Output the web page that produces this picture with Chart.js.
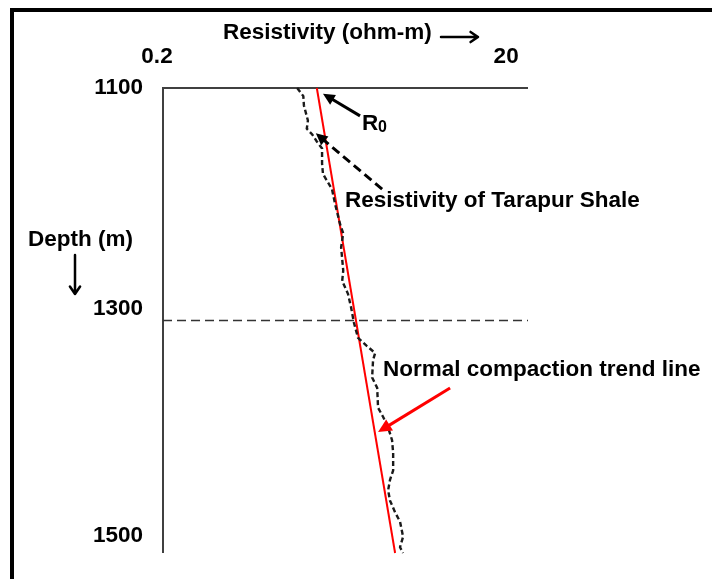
<!DOCTYPE html>
<html>
<head>
<meta charset="utf-8">
<script src="https://cdn.jsdelivr.net/npm/chart.js@4"></script>
<style>
  body { margin: 0; background: #fff; }
  canvas { display: block; }
</style>
</head>
<body>
<canvas id="ChartOne" width="712" height="579"></canvas>
<script>

const depthM = [1100, 1107, 1115, 1128, 1135, 1140, 1146, 1152, 1165, 1174, 1187, 1200, 1217, 1225, 1237, 1257, 1266, 1277, 1289, 1302,
  1315, 1322, 1328, 1334, 1349, 1358, 1375, 1383, 1392, 1403, 1414, 1429, 1437, 1446, 1455, 1465, 1473, 1486, 1495, 1500];
const resistivity = [1.18, 1.28, 1.29, 1.36, 1.34, 1.44, 1.53, 1.64, 1.64, 1.66, 1.87, 1.95, 2.08, 2.17, 2.11, 2.17, 2.14, 2.31, 2.41, 2.50,
  2.64, 2.97, 3.31, 3.22, 3.18, 3.40, 3.44, 3.68, 3.93, 4.14, 4.20, 4.20, 4.03, 3.93, 4.03, 4.31, 4.60, 4.79, 4.60, 4.79];

const trendDepth = [1100, 1500];
const trendRes = [1.53, 4.31];

const markDepth = 1300;
const xRange = [0.2, 25];
const xTicks = [0.2, 20];
const yTicks = [1100, 1300, 1500];

// arrow tails / tips in data units [res, depth]
const r0Arrow = [[2.71, 1124], [1.66, 1105]];
const shaleArrow = [[3.63, 1187], [1.51, 1139]];
const trendArrow = [[8.92, 1358], [3.44, 1396]];

const boldFont = (size) => 'bold ' + size + 'px "Liberation Sans", Arial, sans-serif';

const drawArrow = (ctx, x1, y1, x2, y2, color, width, head, dash) => {
  let ang = Math.atan2(y2 - y1, x2 - x1);
  ctx.save();
  ctx.strokeStyle = color;
  ctx.fillStyle = color;
  ctx.lineWidth = width;
  ctx.setLineDash(dash || []);
  ctx.beginPath();
  ctx.moveTo(x1, y1);
  ctx.lineTo(x2 - Math.cos(ang) * head * 0.6, y2 - Math.sin(ang) * head * 0.6);
  ctx.stroke();
  ctx.setLineDash([]);
  ctx.beginPath();
  ctx.moveTo(x2, y2);
  ctx.lineTo(x2 - head * Math.cos(ang - 0.45), y2 - head * Math.sin(ang - 0.45));
  ctx.lineTo(x2 - head * Math.cos(ang + 0.45), y2 - head * Math.sin(ang + 0.45));
  ctx.closePath();
  ctx.fill();
  ctx.restore();
}

// open chevron arrow, like the "→" and "↓" glyphs in the figure
const drawChevron = (ctx, x1, y1, x2, y2, width, head) => {
  let ang = Math.atan2(y2 - y1, x2 - x1);
  ctx.save();
  ctx.strokeStyle = '#000';
  ctx.lineWidth = width;
  ctx.lineCap = 'round';
  ctx.lineJoin = 'round';
  ctx.beginPath();
  ctx.moveTo(x1, y1);
  ctx.lineTo(x2, y2);
  ctx.moveTo(x2 - head * Math.cos(ang - 0.6), y2 - head * Math.sin(ang - 0.6));
  ctx.lineTo(x2, y2);
  ctx.lineTo(x2 - head * Math.cos(ang + 0.6), y2 - head * Math.sin(ang + 0.6));
  ctx.stroke();
  ctx.restore();
}

const sketchPlugin = {
  id: 'sketch',
  beforeDatasetsDraw: (chart) => {
    let ctx = chart.ctx;
    let a = chart.chartArea;
    ctx.save();
    ctx.fillStyle = '#000';
    ctx.fillRect(10, 8, 702, 4);
    ctx.fillRect(10, 8, 4, 571);
    ctx.strokeStyle = '#404040';
    ctx.lineWidth = 2;
    ctx.beginPath();
    ctx.moveTo(a.left, a.bottom);
    ctx.lineTo(a.left, a.top);
    ctx.lineTo(a.right, a.top);
    ctx.stroke();
    ctx.restore();
  },
  afterDraw: (chart) => {
    let ctx = chart.ctx;
    let xs = chart.scales.x;
    let ys = chart.scales.y;
    let px = (p) => [xs.getPixelForValue(p[0]), ys.getPixelForValue(p[1])];

    ctx.save();
    ctx.fillStyle = '#000';
    ctx.textBaseline = 'middle';
    ctx.font = boldFont(22.5);

    ctx.textAlign = 'left';
    ctx.fillText('Resistivity (ohm-m)', 223, 33);
    drawChevron(ctx, 441, 37, 478, 37, 2.5, 9);

    ctx.textAlign = 'center';
    ctx.fillText('0.2', xs.getPixelForValue(xTicks[0]) - 6, 57);
    ctx.fillText('20', xs.getPixelForValue(xTicks[1]) - 5, 57);

    let yOff = [0, -12, -17];
    ctx.textAlign = 'right';
    yTicks.forEach((v, i) => {
      ctx.fillText(String(v), 143, ys.getPixelForValue(v) + yOff[i]);
    });

    ctx.textAlign = 'left';
    ctx.fillText('Depth (m)', 28, 240);
    drawChevron(ctx, 75, 255, 75, 294, 2.5, 9);

    ctx.fillText('R', 362, 124);
    ctx.font = boldFont(16);
    ctx.textBaseline = 'alphabetic';
    ctx.fillText('0', 378, 132);
    ctx.textBaseline = 'middle';
    ctx.font = boldFont(22.5);

    ctx.fillText('Resistivity of Tarapur Shale', 345, 201);
    ctx.fillText('Normal compaction trend line', 383, 370);

    let t = px(r0Arrow[0]), h = px(r0Arrow[1]);
    drawArrow(ctx, t[0], t[1], h[0], h[1], '#000', 3, 13);
    t = px(shaleArrow[0]); h = px(shaleArrow[1]);
    drawArrow(ctx, t[0], t[1], h[0], h[1], '#000', 3, 13, [9, 5]);
    t = px(trendArrow[0]); h = px(trendArrow[1]);
    drawArrow(ctx, t[0], t[1], h[0], h[1], '#ff0000', 3, 15);
    ctx.restore();
  }
}

let logPoints = depthM.map((d, i) => ({ x: resistivity[i], y: d }));
let trendPoints = trendDepth.map((d, i) => ({ x: trendRes[i], y: d }));
let markPoints = xRange.map((r) => ({ x: r, y: markDepth }));

let ctx = document.getElementById('ChartOne').getContext('2d');

let myChart = new Chart(ctx, {
  type: 'line',
  data: {
    datasets: [{
      label: 'Resistivity of Tarapur Shale',
      data: logPoints,
      borderColor: '#1a1a1a',
      borderWidth: 2.4,
      borderDash: [5, 3],
      pointRadius: 0,
      clip: false
    }, {
      label: 'Normal compaction trend line',
      data: trendPoints,
      borderColor: '#ff0000',
      borderWidth: 2,
      pointRadius: 0,
      clip: false
    }, {
      label: '1300 m',
      data: markPoints,
      borderColor: '#333',
      borderWidth: 1.5,
      borderDash: [9, 5],
      pointRadius: 0
    }]
  },
  options: {
    responsive: false,
    animation: false,
    layout: {
      padding: { left: 163, top: 88, right: 184, bottom: 26 }
    },
    scales: {
      x: { type: 'logarithmic', min: xRange[0], max: xRange[1], display: false },
      y: { type: 'linear', min: yTicks[0], max: yTicks[2], reverse: true, display: false }
    },
    plugins: {
      legend: { display: false },
      tooltip: { enabled: false }
    }
  },
  plugins: [sketchPlugin]
})

</script>
</body>
</html>
